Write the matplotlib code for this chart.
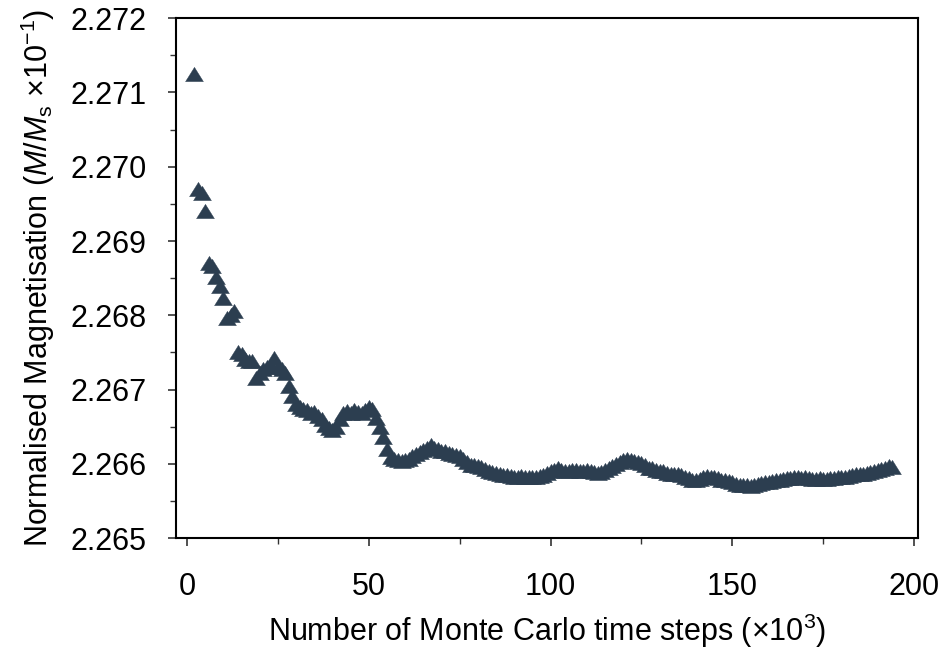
import matplotlib
matplotlib.use("Agg")
import matplotlib.pyplot as plt
from matplotlib.ticker import MultipleLocator

plt.rcParams['font.family'] = ['Liberation Sans', 'DejaVu Sans']
plt.rcParams['mathtext.fontset'] = 'custom'
plt.rcParams['mathtext.rm'] = 'Liberation Sans'
plt.rcParams['mathtext.it'] = 'Liberation Sans:italic'

# Monte Carlo time steps (x10^3)
steps = list(range(2, 195))

# Normalised magnetisation (M/Ms x10^-1) at each step
magnetisation = [
    2.27125, 2.26970, 2.26965, 2.26940, 2.26870, 2.26866, 2.26852, 2.26840, 2.26824, 2.26796,
    2.26800, 2.26806, 2.26750, 2.26748, 2.26741, 2.26739, 2.26738, 2.26716, 2.26722, 2.26728,
    2.26730, 2.26732, 2.26743, 2.26730, 2.26728, 2.26722, 2.26705, 2.26692, 2.26680, 2.26676,
    2.26674, 2.26672, 2.26668, 2.26670, 2.26665, 2.26660, 2.26652, 2.26648, 2.26646, 2.26650,
    2.26660, 2.26668, 2.26671, 2.26669, 2.26672, 2.26670, 2.26668, 2.26673, 2.26676, 2.26674,
    2.26662, 2.26650, 2.26636, 2.26620, 2.26609, 2.26606, 2.26605, 2.26604, 2.26605, 2.26606,
    2.26610, 2.26613, 2.26616, 2.26619, 2.26622, 2.26625, 2.26622, 2.26620, 2.26618, 2.26617,
    2.26615, 2.26614, 2.26612, 2.26611, 2.26606, 2.26602, 2.26598, 2.26599, 2.26597, 2.26596,
    2.26593, 2.26590, 2.26589, 2.26588, 2.26586, 2.26585, 2.26585, 2.26584, 2.26583, 2.26583,
    2.26584, 2.26583, 2.26582, 2.26583, 2.26583, 2.26584, 2.26585, 2.26588, 2.26590, 2.26592,
    2.26594, 2.26592, 2.26590, 2.26591, 2.26592, 2.26592, 2.26591, 2.26590, 2.26592, 2.26591,
    2.26589, 2.26588, 2.26589, 2.26592, 2.26595, 2.26597, 2.26600, 2.26603, 2.26605, 2.26606,
    2.26605, 2.26604, 2.26603, 2.26601, 2.26598, 2.26595, 2.26594, 2.26592, 2.26591, 2.26590,
    2.26588, 2.26587, 2.26587, 2.26586, 2.26585, 2.26583, 2.26581, 2.26579, 2.26578, 2.26580,
    2.26583, 2.26584, 2.26583, 2.26582, 2.26581, 2.26579, 2.26578, 2.26577, 2.26575, 2.26573,
    2.26572, 2.26571, 2.26571, 2.26570, 2.26571, 2.26573, 2.26574, 2.26575, 2.26576, 2.26577,
    2.26578, 2.26579, 2.26580, 2.26581, 2.26581, 2.26582, 2.26582, 2.26581, 2.26582, 2.26581,
    2.26580, 2.26580, 2.26581, 2.26580, 2.26580, 2.26581, 2.26581, 2.26582, 2.26582, 2.26583,
    2.26584, 2.26585, 2.26586, 2.26586, 2.26587, 2.26588, 2.26589, 2.26590, 2.26592, 2.26593,
    2.26595, 2.26597, 2.26596,
]

x_ticks = [0, 50, 100, 150, 200]
y_ticks = [2.265, 2.266, 2.267, 2.268, 2.269, 2.270, 2.271, 2.272]

fig = plt.figure(figsize=(9.52, 6.5), dpi=100)
ax = fig.add_axes([0.185, 0.172, 0.779, 0.800])

# slightly flattened upward triangle
tri = [(-1.0, -0.8), (1.0, -0.8), (0.0, 0.8), (-1.0, -0.8)]
ax.plot(steps, magnetisation, linestyle='none', marker=tri, markersize=12.8,
        markerfacecolor='#2c3e50', markeredgecolor='#2c3e50', markeredgewidth=0.3)

ax.set_xlim(-3, 201)
ax.set_ylim(2.265, 2.272)
ax.set_xticks(x_ticks)
ax.set_yticks(y_ticks)
ax.set_yticklabels([f"{v:.3f}" for v in y_ticks])
ax.xaxis.set_minor_locator(MultipleLocator(25))
ax.yaxis.set_minor_locator(MultipleLocator(0.0005))

for s in ax.spines.values():
    s.set_linewidth(1.5)
    s.set_color('black')

ax.tick_params(axis='both', which='major', direction='out', length=6, width=1.2,
               color='#333333', labelsize=22)
ax.tick_params(axis='both', which='minor', direction='out', length=4, width=1.0,
               color='#333333')
ax.tick_params(axis='x', which='major', pad=18)
ax.tick_params(axis='y', which='major', pad=15)

ax.set_xlabel(r'Number of Monte Carlo time steps ($\times$10$^{3}$)', fontsize=22, labelpad=7)
ax.set_ylabel(r'Normalised Magnetisation ($\mathit{M/M}_{\mathrm{s}}$ $\times$10$^{-1}$)',
              fontsize=22, labelpad=10)

fig.savefig('out.png', dpi=100)
